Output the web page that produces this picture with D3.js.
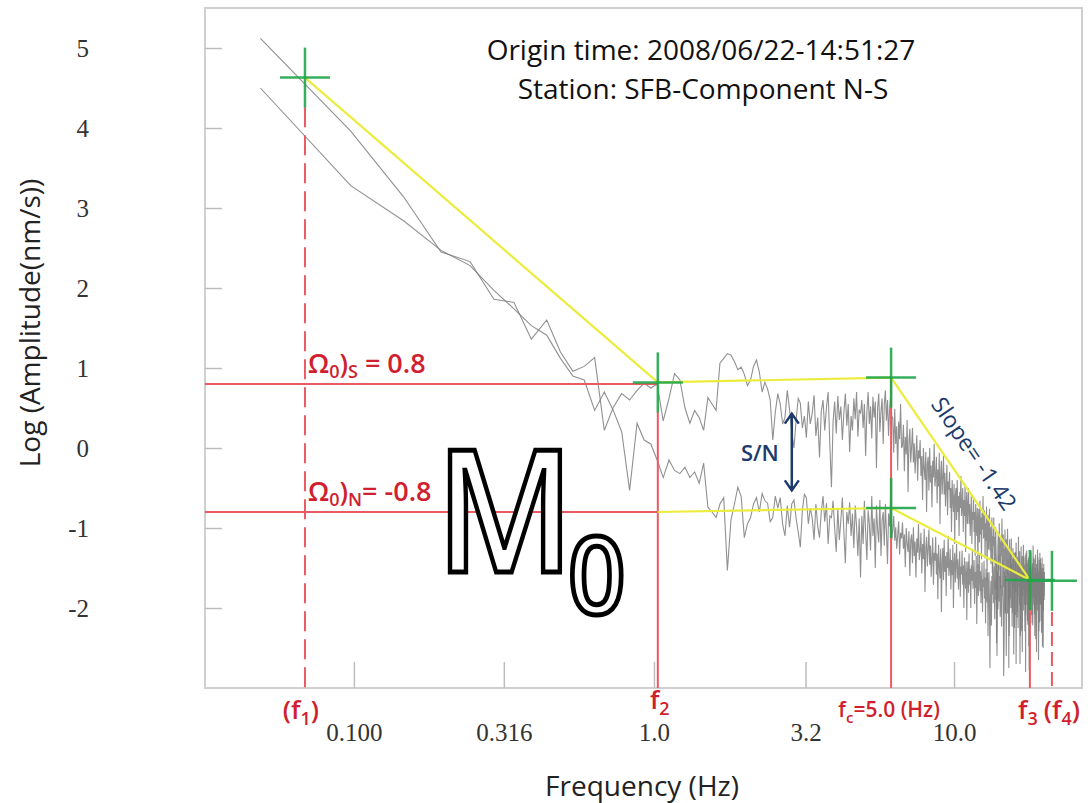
<!DOCTYPE html>
<html>
<head>
<meta charset="utf-8">
<script src="https://cdn.jsdelivr.net/npm/d3@7"></script>
<style>
body { margin: 0; background: #fff; }
</style>
</head>
<body>
<div id="chart"></div>
<script>
// spectrum bins: frequency of bin k (k = 1..n) is k * binWidth
const binWidth = 0.0488;
const signalLogAmp = [
  5.12, 3.96, 3.14, 2.45, 2.33, 1.86, 1.82, 1.36, 1.60, 1.20,
  0.96, 1.02, 1.13, 0.22, 0.51, 0.68, 0.60, 0.72, 0.81, 0.75, 0.80,
  0.34, 0.62, 0.93, 0.85, 0.50, 0.31, 0.47, 0.38, 0.22, 0.63, 0.55, 0.47, 1.06, 1.12, 1.18, 1.16, 1.08, 0.98, 1.01,
  0.92, 0.78, 0.85, 1.02, 1.10, 0.95, 0.70, 0.82, 0.74, 0.60,
  0.10, 0.45, 0.68, 0.55, 0.30, 0.38, 0.72, 0.48, 0.20, 0.00,
  0.35, 0.62, 0.56, 0.25, 0.40, 0.13, 0.58, 0.30, 0.43, 0.66,
  0.15, 0.38, -0.12, 0.46, 0.60, 0.22, 0.51, 0.70, 0.05, -0.49,
  0.32, 0.58, 0.18, 0.65, 0.35, 0.52, 0.10, 0.44, 0.68, 0.28,
  0.55, -0.05, 0.40, 0.22, 0.62, 0.36, 0.70, 0.14, 0.48, 0.43,
  0.60, 0.25, 0.55, -0.10, 0.45, 0.70, 0.30, 0.52, 0.12, 0.64,
  0.38, 0.58, -0.25, 0.50, 0.68, 0.20, 0.46, 0.62, 0.05, 0.55,
  0.72, 0.34, 0.60, 0.15, 0.48, 0.66, 0.40,
  0.38, -0.06, 0.49, 0.05, 0.27, -0.28, 0.33, 0.11, 0.55, 0.00,
  0.03, 0.29, -0.29, 0.14, -0.08, 0.35, -0.55, 0.08, 0.24, -0.18,
  0.02, 0.25, -0.18, 0.06, -0.32, -0.08, 0.16, -0.41, -0.03, -0.13,
  0.10, -0.35, -0.10, -0.65, 0.00, -0.25, -0.40, -0.05, -0.80, -0.20,
  -0.11, -0.53, 0.00, -0.43, -0.22, -0.74, -0.16, -0.37, 0.05, -0.48,
  -0.37, -0.11, -0.69, -0.27, -0.48, -0.06, -0.95, -0.32, -0.16, -0.58,
  -0.37, -0.10, -0.58, -0.31, -0.73, -0.47, -0.21, -0.84, -0.42, -0.52,
  -0.30, -0.75, -0.50, -1.05, -0.40, -0.65, -0.80, -0.45, -1.20, -0.60,
  -0.50, -0.90, -0.40, -0.80, -0.60, -1.10, -0.55, -0.75, -0.35, -0.85,
  -0.75, -0.50, -1.05, -0.65, -0.85, -0.45, -1.30, -0.70, -0.55, -0.95,
  -0.75, -0.50, -0.95, -0.70, -1.10, -0.85, -0.60, -1.20, -0.80, -0.90,
  -0.60, -1.05, -0.80, -1.35, -0.70, -0.95, -1.10, -0.75, -1.50, -0.90,
  -0.76, -1.18, -0.66, -1.08, -0.87, -1.39, -0.81, -1.02, -0.60, -1.13,
  -1.05, -0.78, -1.38, -0.94, -1.16, -0.73, -1.65, -1.00, -0.84, -1.27,
  -1.05, -0.76, -1.28, -0.99, -1.45, -1.16, -0.87, -1.56, -1.10, -1.22,
  -0.87, -1.41, -1.11, -1.77, -0.99, -1.29, -1.47, -2.60, -1.95, -1.23,
  -1.06, -1.53, -0.94, -1.41, -1.17, -1.76, -1.12, -1.35, -0.88, -1.47,
  -1.38, -1.08, -1.74, -1.26, -1.50, -1.02, -2.04, -1.32, -1.14, -1.62,
  -1.33, -1.01, -1.58, -1.26, -2.75, -1.45, -1.14, -1.89, -1.39, -1.51,
  -1.13, -1.69, -1.38, -2.06, -1.25, -1.56, -1.75, -1.31, -2.25, -1.50,
  -1.30, -1.80, -1.18, -1.68, -1.43, -2.05, -1.36, -1.61, -1.11, -1.74,
  -1.60, -1.29, -2.70, -1.48, -1.73, -1.23, -2.29, -1.54, -1.35, -1.85,
  -1.53, -1.21, -1.78, -1.46, -1.96, -1.65, -1.34, -2.09, -1.59, -1.71,
  -1.28, -1.84, -1.53, -2.21, -1.40, -1.71, -1.90, -2.78, -2.40, -1.65,
  -1.41, -1.93, -1.28, -1.80, -1.54, -2.19, -1.48, -1.74, -1.22, -1.87,
  -1.70, -1.39, -2.08, -1.58, -1.83, -1.33, -2.39, -1.64, -1.45, -1.95,
  -1.59, -1.27, -1.85, -1.53, -2.65, -1.72, -1.40, -2.18, -1.66, -1.79,
  -1.38, -1.94, -1.63, -2.31, -1.50, -1.81, -2.00, -1.56, -2.50, -1.75, -1.45, -1.90, -1.60
];
const noiseLogAmp = [
  4.50, 3.28, 2.84, 2.47, 2.28, 1.97, 1.74, 1.53, 1.41, 1.12,
  0.90, 0.85, 0.47, 0.70, 0.47, 0.20, -0.53, 0.31, 0.10, 0.05, -0.15,
  -0.37, -0.15, -0.28, -0.32, -0.24, -0.37, -0.30, -0.44, -0.19, -0.74, -0.80, -0.87, -0.70, -0.62, -1.53, -0.90, -0.70, -0.49, -0.60,
  -1.12, -0.95, -0.87, -0.70, -0.62, -0.80, -0.57, -0.66, -0.69, -0.92,
  -0.87, -0.60, -0.75, -0.62, -0.95, -1.10, -0.72, -0.99, -0.70, -0.65,
  -0.88, -1.05, -1.24, -0.78, -0.58, -0.62, -0.95, -0.75, -0.87, -1.15,
  -0.70, -0.98, -1.12, -0.80, -0.60, -0.92, -0.69, -1.20, -0.85, -0.87,
  -0.66, -1.00, -1.30, -0.75, -1.15, -0.90, -0.62, -1.05, -1.44, -0.80,
  -0.95, -0.68, -1.10, -0.82, -1.25, -0.72, -0.98, -1.35, -0.88, -1.62,
  -0.85, -1.20, -0.66, -1.05, -1.40, -0.78, -0.95, -1.28, -0.60, -1.10,
  -0.88, -1.50, -0.72, -1.02, -1.18, -0.65, -1.35, -0.90, -0.80, -1.22,
  -0.70, -1.05, -1.45, -0.82, -0.98, -0.62, -1.15,
  -1.02, -0.85, -1.16, -0.99, -1.26, -1.09, -0.92, -1.33, -1.06, -1.13,
  -0.93, -1.26, -1.08, -1.49, -1.00, -1.19, -1.30, -1.04, -1.60, -1.15,
  -1.08, -1.44, -0.99, -1.35, -1.17, -1.62, -1.13, -1.31, -0.95, -1.40,
  -1.29, -1.06, -1.57, -1.20, -1.39, -1.01, -1.80, -1.25, -1.11, -1.48,
  -1.26, -1.02, -1.46, -1.22, -1.61, -1.36, -1.12, -1.71, -1.31, -1.41,
  -1.11, -1.58, -1.32, -1.89, -1.21, -1.47, -1.63, -1.26, -2.05, -1.42,
  -1.25, -1.65, -1.15, -1.55, -1.35, -1.85, -1.30, -1.50, -1.10, -1.60,
  -1.49, -1.26, -1.77, -1.40, -1.59, -1.21, -2.00, -1.45, -1.31, -1.68,
  -1.44, -1.20, -1.63, -1.39, -1.77, -1.53, -1.29, -1.86, -1.48, -1.58,
  -1.28, -1.71, -1.47, -2.00, -1.37, -1.62, -1.76, -1.42, -2.15, -1.57,
  -1.42, -1.81, -1.32, -1.71, -1.51, -2.00, -1.47, -1.66, -1.27, -1.76,
  -1.65, -1.40, -1.95, -1.55, -1.75, -1.35, -2.20, -1.60, -1.45, -1.85,
  -1.59, -1.33, -1.79, -1.54, -1.94, -1.69, -1.43, -2.05, -1.64, -1.74,
  -1.41, -1.88, -1.62, -2.19, -1.51, -1.77, -1.93, -1.56, -2.35, -1.72,
  -1.55, -2.00, -2.75, -1.89, -1.66, -2.22, -1.60, -1.83, -1.38, -1.94,
  -1.78, -1.48, -2.14, -1.66, -1.90, -1.42, -2.44, -1.72, -1.54, -2.02,
  -1.66, -1.34, -1.92, -1.60, -2.11, -1.79, -1.47, -2.23, -1.72, -1.85,
  -1.40, -2.00, -2.85, -2.40, -1.54, -1.87, -2.07, -1.60, -2.60, -1.80,
  -1.52, -2.07, -1.39, -1.94, -1.66, -2.35, -1.59, -1.87, -1.32, -2.00,
  -1.80, -1.45, -2.23, -1.66, -1.95, -1.38, -2.58, -1.73, -1.52, -2.09,
  -1.65, -1.31, -2.70, -1.58, -2.12, -1.78, -1.44, -2.25, -1.71, -1.85,
  -1.37, -1.96, -1.63, -2.35, -1.50, -1.83, -2.03, -1.57, -2.55, -1.76,
  -1.50, -2.03, -1.37, -1.90, -1.63, -2.29, -1.57, -2.80, -1.31, -1.96,
  -1.76, -1.44, -2.16, -1.63, -1.90, -1.37, -2.48, -1.70, -1.50, -2.03,
  -1.63, -1.31, -1.90, -1.57, -2.09, -1.76, -1.44, -2.22, -1.70, -1.83,
  -1.37, -1.96, -1.63, -2.35, -1.50, -1.83, -2.03, -1.57, -2.55, -1.76,
  -1.50, -2.03, -1.37, -1.90, -1.63, -2.29, -1.57, -1.83, -1.31, -1.96,
  -1.76, -1.44, -2.16, -1.63, -1.90, -1.37, -2.48, -1.70, -1.50, -2.03, -1.65, -1.85, -1.55
];

const xTicks = [0.1, 0.316, 1, 3.2, 10];
const xTickLabels = ["0.100", "0.316", "1.0", "3.2", "10.0"];
const yTicks = [-2, -1, 0, 1, 2, 3, 4, 5];

// picked frequencies (Hz): f1, f2, fc, f3, f4
const markerFreqs = [0.0687, 1.03, 6.17, 17.9, 21.2];
const markerTops = [4.26, 0.45, 0.88, -1.65, -2.05];
// fitted segments [freq, log amp]
const signalFit = [[0.0687, 4.63], [1.03, 0.82], [6.17, 0.88], [17.9, -1.65]];
const noiseFit = [[1.03, -0.8], [6.17, -0.75], [17.9, -1.65]];
const crossPoints = [[0.0687, 4.63], [1.03, 0.82], [6.17, 0.88], [6.17, -0.75], [17.9, -1.65], [21.2, -1.66]];
const omegaLevels = [0.8, -0.8];
const snArrow = [2.88, 0.43, -0.53]; // freq, top, bottom

const W = 1090, H = 803;
const plotLeft = 205, plotRight = 1082, plotTop = 8, plotBottom = 688;

const svg = d3.select("#chart").append("svg").attr("width", W).attr("height", H);

const x = d3.scaleLog().domain([0.0319, 26.7]).range([plotLeft, plotRight]);
const y = d3.scaleLinear().domain([-3, 5.5]).range([plotBottom, plotTop]);

const red = "#ea5a62", redText = "#d01f2e", green = "#1fa64a", yellow = "#ecec3c", navy = "#1c3a6b";

// frame
svg.append("rect").attr("x", plotLeft).attr("y", plotTop).attr("width", plotRight - plotLeft).attr("height", plotBottom - plotTop)
  .attr("fill", "none").attr("stroke", "#cfcfcf").attr("stroke-width", 2);

// axes
const xAxis = d3.axisBottom(x).tickValues(xTicks).tickFormat((d, i) => xTickLabels[i])
  .tickSizeInner(-26).tickSizeOuter(0).tickPadding(35);
const gx = svg.append("g").attr("transform", "translate(0," + plotBottom + ")").call(xAxis);
gx.select(".domain").remove();
gx.selectAll(".tick line").attr("stroke", "#bdbdbd").attr("stroke-width", 1.5);
gx.selectAll(".tick text").attr("style", "font: 25px 'Liberation Serif', serif").attr("fill", "#333");

const yAxis = d3.axisLeft(y).tickValues(yTicks).tickFormat(d => String(d))
  .tickSizeInner(-17).tickSizeOuter(0).tickPadding(116);
const gy = svg.append("g").attr("transform", "translate(" + plotLeft + ",0)").call(yAxis);
gy.select(".domain").remove();
gy.selectAll(".tick line").attr("stroke", "#bdbdbd").attr("stroke-width", 1.5);
gy.selectAll(".tick text").attr("style", "font: 25px 'Liberation Serif', serif").attr("fill", "#333");

// axis titles
svg.append("text").attr("transform", "translate(33,323) rotate(-90)").attr("text-anchor", "middle")
  .attr("dominant-baseline", "middle").attr("style", "font: 28px 'Open Sans', sans-serif").attr("fill", "#222")
  .text("Log (Amplitude(nm/s))");
svg.append("text").attr("x", 642).attr("y", 796).attr("text-anchor", "middle")
  .attr("style", "font: 28px 'Open Sans', sans-serif").attr("fill", "#222").text("Frequency (Hz)");

// title
svg.append("text").attr("x", 701).attr("y", 60).attr("text-anchor", "middle")
  .attr("style", "font: 28px 'Open Sans', sans-serif").attr("fill", "#111").text("Origin time: 2008/06/22-14:51:27");
svg.append("text").attr("x", 703).attr("y", 99).attr("text-anchor", "middle")
  .attr("style", "font: 28px 'Open Sans', sans-serif").attr("fill", "#111").text("Station: SFB-Component N-S");

// spectra
const specLine = d3.line().x((d, i) => x((i + 1) * binWidth)).y(d => y(d));
[noiseLogAmp, signalLogAmp].forEach(series => {
  svg.append("path").attr("d", specLine(series)).attr("fill", "none")
    .attr("stroke", "#7d7d7d").attr("stroke-width", 1.1).attr("stroke-opacity", 0.85);
});

// red marker lines
omegaLevels.forEach(v => {
  svg.append("line").attr("x1", plotLeft).attr("x2", x(markerFreqs[1])).attr("y1", y(v)).attr("y2", y(v))
    .attr("stroke", red).attr("stroke-width", 2);
});
markerFreqs.forEach((f, i) => {
  let dashed = (i === 0 || i === markerFreqs.length - 1);
  svg.append("line").attr("x1", x(f)).attr("x2", x(f)).attr("y1", y(markerTops[i])).attr("y2", plotBottom)
    .attr("stroke", red).attr("stroke-width", 2)
    .attr("stroke-dasharray", dashed ? (i === 0 ? "20,8" : "14,6") : null);
});

// fitted lines
const fitLine = d3.line().x(d => x(d[0])).y(d => y(d[1]));
[signalFit, noiseFit].forEach(seg => {
  svg.append("path").attr("d", fitLine(seg)).attr("fill", "none").attr("stroke", yellow).attr("stroke-width", 2.2);
});

// crosses
crossPoints.forEach(p => {
  let cx = x(p[0]), cy = y(p[1]);
  svg.append("line").attr("x1", cx - 25).attr("x2", cx + 25).attr("y1", cy).attr("y2", cy)
    .attr("stroke", green).attr("stroke-width", 2.5).attr("stroke-opacity", 0.9);
  svg.append("line").attr("x1", cx).attr("x2", cx).attr("y1", cy - 30).attr("y2", cy + 30)
    .attr("stroke", green).attr("stroke-width", 2.5).attr("stroke-opacity", 0.9);
});

// omega labels
const labelFont = "font: 600 27px 'Open Sans', sans-serif";
function omegaLabel(v, sub, rest) {
  let t = svg.append("text").attr("x", x(markerFreqs[0]) + 3).attr("y", y(v) - 11)
    .attr("style", labelFont).attr("fill", redText);
  t.append("tspan").text("Ω");
  t.append("tspan").attr("dy", 5).attr("style", "font-size:18px").text("0");
  t.append("tspan").attr("dy", -5).text(")");
  t.append("tspan").attr("dy", 5).attr("style", "font-size:18px").text(sub);
  t.append("tspan").attr("dy", -5).text(rest);
}
omegaLabel(omegaLevels[0], "S", " = 0.8");
omegaLabel(omegaLevels[1], "N", "= -0.8");

// big M0
svg.append("text").attr("transform", "translate(436,572) scale(0.88,1)")
  .attr("style", "font: 600 170px 'Open Sans', sans-serif").attr("fill", "#fff")
  .attr("stroke", "#000").attr("stroke-width", 5).text("M");
svg.append("text").attr("transform", "translate(568,614) scale(0.95,1)")
  .attr("style", "font: 600 106px 'Open Sans', sans-serif").attr("fill", "#fff")
  .attr("stroke", "#000").attr("stroke-width", 5).text("0");

// bottom frequency labels
function freqLabel(cx, cy, pre, sub, post, size) {
  let t = svg.append("text").attr("x", cx).attr("y", cy).attr("text-anchor", "middle")
    .attr("style", "font: 600 " + size + "px 'Open Sans', sans-serif").attr("fill", redText);
  t.append("tspan").text(pre);
  t.append("tspan").attr("dy", 6).attr("style", "font-size:" + Math.round(size * 0.7) + "px").text(sub);
  t.append("tspan").attr("dy", -6).text(post);
}
freqLabel(x(markerFreqs[0]) - 4, 719, "(f", "1", ")", 26);
freqLabel(x(markerFreqs[1]) + 2, 709, "f", "2", "", 26);
freqLabel(x(markerFreqs[2]) - 2, 717, "f", "c", "=5.0 (Hz)", 21);
freqLabel(x(markerFreqs[3]) - 2, 719, "f", "3", "", 26);
freqLabel(x(markerFreqs[4]) + 10, 719, "(f", "4", ")", 26);

// S/N arrow
const ax = x(snArrow[0]), ay1 = y(snArrow[1]), ay2 = y(snArrow[2]);
svg.append("path")
  .attr("d", "M" + ax + "," + ay1 + "V" + ay2 + "M" + (ax - 7) + "," + (ay1 + 10) + "L" + ax + "," + ay1 + "L" + (ax + 7) + "," + (ay1 + 10)
    + "M" + (ax - 7) + "," + (ay2 - 10) + "L" + ax + "," + ay2 + "L" + (ax + 7) + "," + (ay2 - 10))
  .attr("fill", "none").attr("stroke", navy).attr("stroke-width", 2.5);
svg.append("text").attr("x", ax - 13).attr("y", (ay1 + ay2) / 2 + 9).attr("text-anchor", "end")
  .attr("style", "font: 600 22px 'Open Sans', sans-serif").attr("fill", navy).text("S/N");

// slope label
const p1 = [x(signalFit[2][0]), y(signalFit[2][1])], p2 = [x(signalFit[3][0]), y(signalFit[3][1])];
const ang = Math.atan2(p2[1] - p1[1], p2[0] - p1[0]) * 180 / Math.PI;
svg.append("text").attr("transform", "translate(" + ((p1[0] + p2[0]) / 2 + 12) + "," + ((p1[1] + p2[1]) / 2 - 24) + ") rotate(" + ang + ")")
  .attr("text-anchor", "middle").attr("dominant-baseline", "middle")
  .attr("style", "font: 23px 'Open Sans', sans-serif").attr("fill", navy).text("Slope= -1.42");
</script>
</body>
</html>
